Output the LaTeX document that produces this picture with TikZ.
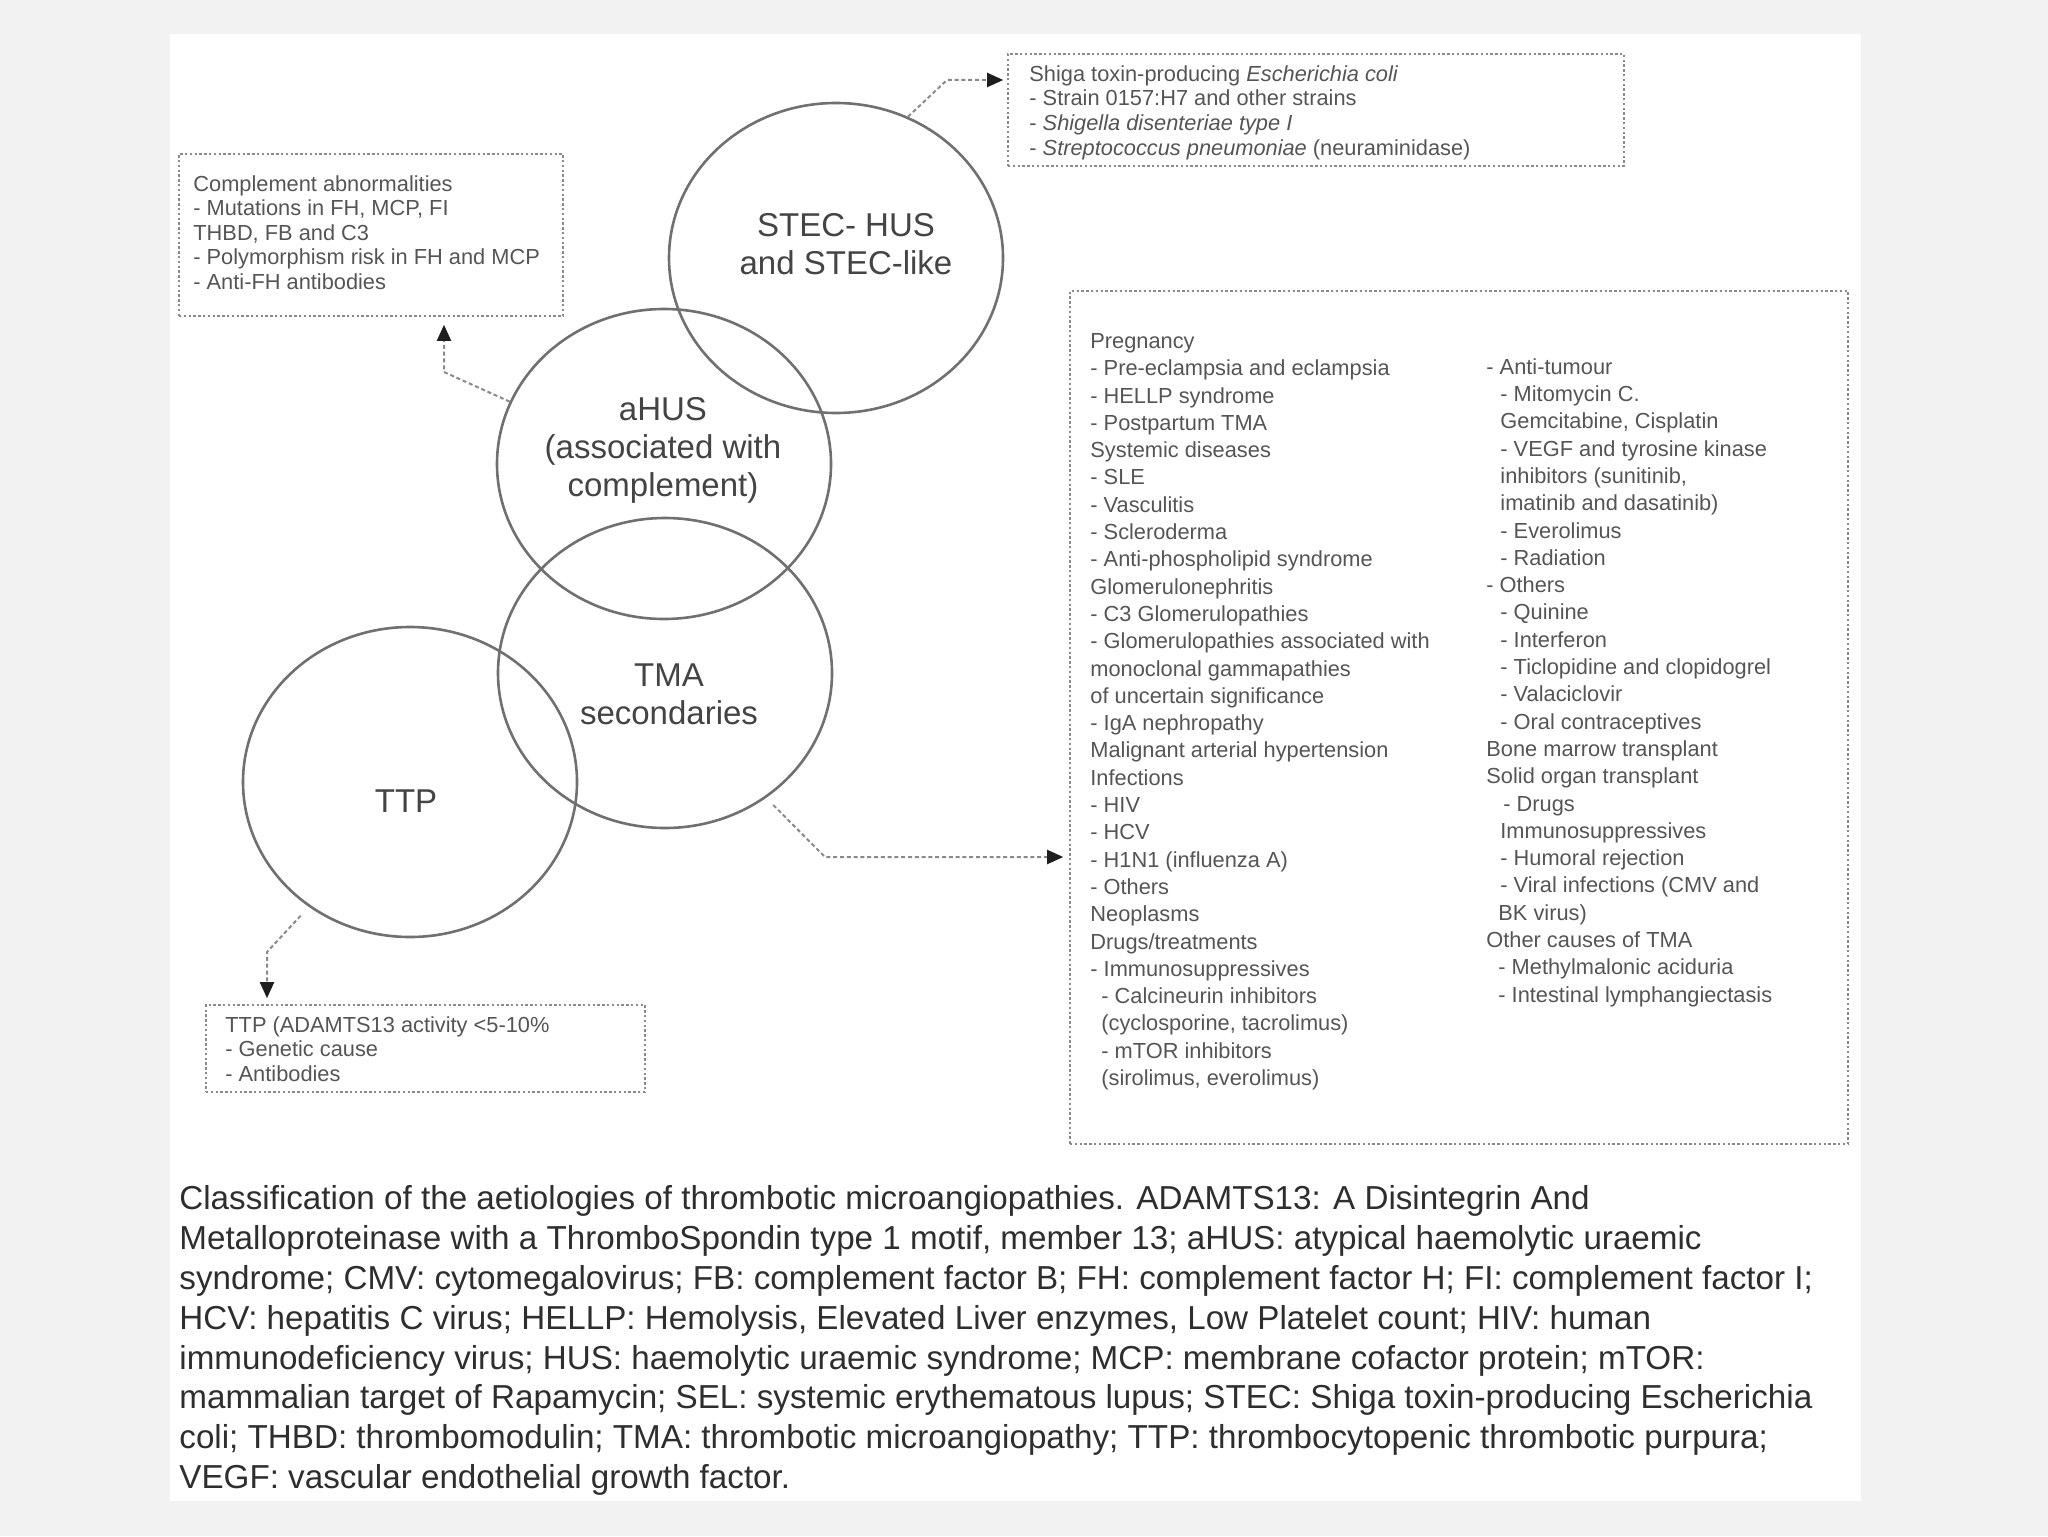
\documentclass[tikz,border=0pt]{standalone}
\usepackage{fontspec}
\setmainfont{Liberation Sans}
\usetikzlibrary{shapes.geometric,arrows.meta}
\definecolor{bggray}{HTML}{F2F2F2}
\definecolor{circgray}{HTML}{707070}
\definecolor{boxgray}{HTML}{8A8A8A}
\definecolor{txtgray}{HTML}{555555}
\definecolor{labgray}{HTML}{444444}
\definecolor{capgray}{HTML}{2E2E2E}
\definecolor{tipblack}{HTML}{1E1E1E}
\tikzset{
  circ/.style={ellipse, draw=circgray, line width=1.3pt, minimum width=167pt, minimum height=155pt, inner sep=0pt},
  clabel/.style={align=center, text=labgray, inner sep=0pt, font=\fontsize{16.5}{19}\selectfont},
  dbox/.style={draw=boxgray, line width=0.8pt, dash pattern=on 1.2pt off 1.2pt, inner sep=0pt},
  btext/.style={align=left, anchor=north west, inner sep=0pt, text=txtgray},
  conn/.style={draw=boxgray, line width=1pt, dash pattern=on 2pt off 1.4pt, -{Triangle[length=8pt,width=7pt,color=tipblack]}},
}
\newcommand{\ind}{\hspace*{7pt}}
\newcommand{\indl}{\hspace*{5.5pt}}
\begin{document}
\begin{tikzpicture}[x=0.5pt,y=-0.5pt]
\useasboundingbox (0,0) rectangle (2048,1536);
\fill[bggray] (0,0) rectangle (2048,1536);
\fill[white] (170,34) rectangle (1861,1501);

% circles
\node[circ] (stec) at (836,258) {};
\node[circ] (ahus) at (664,464) {};
\node[circ] (tma) at (665,673) {};
\node[circ] (ttp) at (410,782) {};

\node[clabel] (stecl) at (846,244) {STEC- HUS\\and STEC-like};
\node[clabel] (ahusl) at (663,450) {aHUS\\(associated with\\complement)};
\node[clabel] (tmal) at (669,694) {TMA\\secondaries};
\node[clabel] (ttpl) at (406,801) {TTP};

% boxes
\node[dbox, minimum width=192pt, minimum height=81pt] (cbox) at (371,235) {};
\node[dbox, minimum width=308pt, minimum height=56pt] (sbox) at (1316,110) {};
\node[dbox, minimum width=389pt, minimum height=426.5pt] (bbox) at (1459,717.5) {};
\node[dbox, minimum width=219.5pt, minimum height=43.5pt] (tbox) at (425.5,1048.5) {};

% box texts
\node[btext, font=\fontsize{10.9}{12.3}\selectfont] (ctext) at (193,175) {Complement abnormalities\\- Mutations in FH, MCP, FI\\THBD, FB and C3\\- Polymorphism risk in FH and MCP\\- Anti-FH antibodies};

\node[btext, font=\fontsize{10.9}{12.4}\selectfont] (stext) at (1029,65) {Shiga toxin-producing \textit{Escherichia coli}\\- Strain 0157:H7 and other strains\\- \textit{Shigella disenteriae type I}\\- \textit{Streptococcus pneumoniae} (neuraminidase)};

\node[btext, font=\fontsize{10.9}{12.2}\selectfont] (ttext) at (225,1016) {TTP (ADAMTS13 activity <5-10\%\\- Genetic cause\\- Antibodies};

\node[btext, font=\fontsize{10.9}{13.65}\selectfont] (lcol) at (1090,333) {Pregnancy\\
- Pre-eclampsia and eclampsia\\
- HELLP syndrome\\
- Postpartum TMA\\
Systemic diseases\\
- SLE\\
- Vasculitis\\
- Scleroderma\\
- Anti-phospholipid syndrome\\
Glomerulonephritis\\
- C3 Glomerulopathies\\
- Glomerulopathies associated with\\
monoclonal gammapathies\\
of uncertain significance\\
- IgA nephropathy\\
Malignant arterial hypertension\\
Infections\\
- HIV\\
- HCV\\
- H1N1 (influenza A)\\
- Others\\
Neoplasms\\
Drugs/treatments\\
- Immunosuppressives\\
\indl- Calcineurin inhibitors\\
\indl(cyclosporine, tacrolimus)\\
\indl- mTOR inhibitors\\
\indl(sirolimus, everolimus)};

\node[btext, font=\fontsize{10.9}{13.65}\selectfont] (rcol) at (1486,358) {- Anti-tumour\\
\ind- Mitomycin C.\\
\ind Gemcitabine, Cisplatin\\
\ind- VEGF and tyrosine kinase\\
\ind inhibitors (sunitinib,\\
\ind imatinib and dasatinib)\\
\ind- Everolimus\\
\ind- Radiation\\
- Others\\
\ind- Quinine\\
\ind- Interferon\\
\ind- Ticlopidine and clopidogrel\\
\ind- Valaciclovir\\
\ind- Oral contraceptives\\
Bone marrow transplant\\
Solid organ transplant\\
\hspace*{8.5pt}- Drugs\\
\ind Immunosuppressives\\
\ind- Humoral rejection\\
\ind- Viral infections (CMV and\\
\hspace*{6pt}BK virus)\\
Other causes of TMA\\
\hspace*{6pt}- Methylmalonic aciduria\\
\hspace*{6pt}- Intestinal lymphangiectasis};

% connectors
\coordinate (b1) at (947,80);
\coordinate (b2) at (444,372);
\coordinate (b3) at (825,857);
\coordinate (b4) at (267,952);
\draw[conn] (stec.63) -- (b1) -- ([xshift=-2pt]sbox.west |- b1);
\draw[conn] (ahus.158) -- (b2) -- ([yshift=-4pt]cbox.south -| b2);
\draw[conn, shorten <=5pt] (tma.-51) -- (b3) -- ([xshift=-3pt]bbox.west |- b3);
\draw[conn, shorten <=6pt] (ttp.231) -- (b4) -- ([yshift=3pt]tbox.north -| b4);

% caption
\node[anchor=north west, align=left, inner sep=0pt, text=capgray, font=\fontsize{16.6}{19.95}\selectfont] (cap) at (179,1185) {Classification of the aetiologies of thrombotic microangiopathies. ADAMTS13: A Disintegrin And\\
Metalloproteinase with a ThromboSpondin type 1 motif, member 13; aHUS: atypical haemolytic uraemic\\
syndrome; CMV: cytomegalovirus; FB: complement factor B; FH: complement factor H; FI: complement factor I;\\
HCV: hepatitis C virus; HELLP: Hemolysis, Elevated Liver enzymes, Low Platelet count; HIV: human\\
immunodeficiency virus; HUS: haemolytic uraemic syndrome; MCP: membrane cofactor protein; mTOR:\\
mammalian target of Rapamycin; SEL: systemic erythematous lupus; STEC: Shiga toxin-producing Escherichia\\
coli; THBD: thrombomodulin; TMA: thrombotic microangiopathy; TTP: thrombocytopenic thrombotic purpura;\\
VEGF: vascular endothelial growth factor.};
\end{tikzpicture}
\end{document}
